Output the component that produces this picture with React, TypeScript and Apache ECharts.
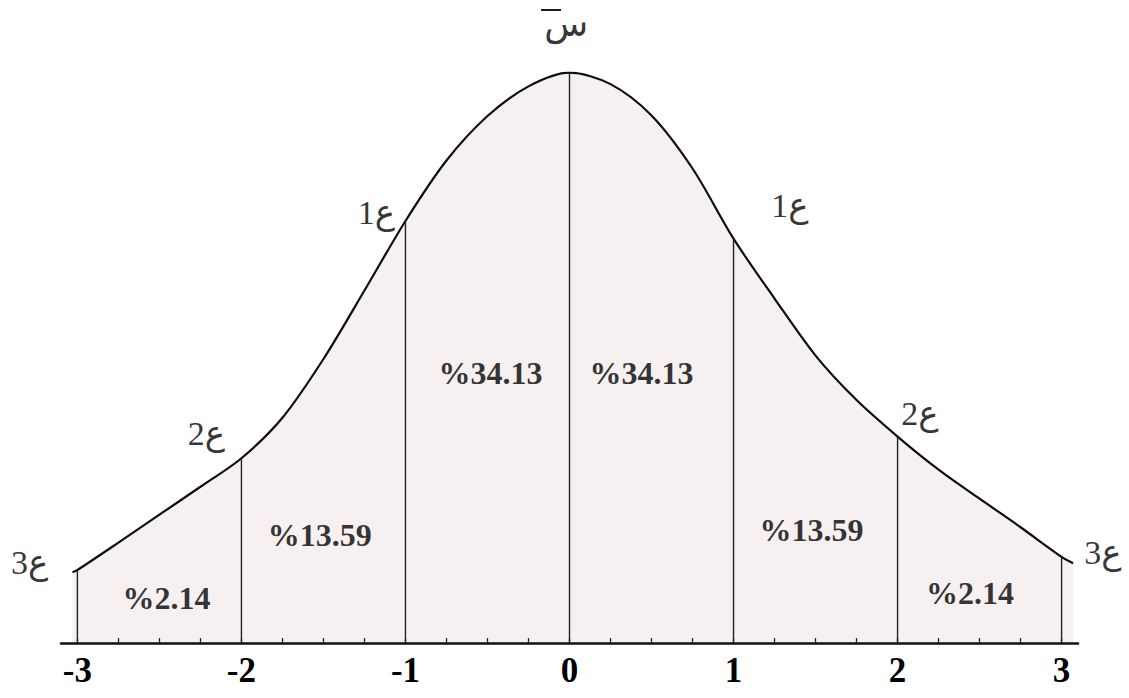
import React, { useEffect, useRef } from "react";
import * as echarts from "echarts";

// Curve (x in σ units, height relative to peak = 100)
const curveX = [-3.03, -3, -2.75, -2.5, -2.25, -2, -1.75, -1.5, -1.25, -1, -0.75, -0.5, -0.25, 0, 0.25, 0.5, 0.75, 1, 1.25, 1.5, 1.75, 2, 2.25, 2.5, 2.75, 3, 3.07];
const curveY = [12.4, 12.8, 17.6, 22.5, 27.4, 32.4, 39.5, 49.8, 61.8, 74.0, 84.6, 92.4, 97.6, 100, 98.0, 92.5, 83.2, 70.9, 60.4, 50.4, 42.6, 36.2, 30.4, 25.3, 20.3, 15.1, 14.0];

// Vertical dividers at each standard deviation
const sigmaX = [-3, -2, -1, 0, 1, 2, 3];
const sigmaH = [12.8, 32.4, 74.0, 100, 70.9, 36.2, 15.1];

// Tick labels
const tickLabels = [-3, -2, -1, 0, 1, 2, 3];

// Area percentages (left to right)
const percentTexts = ["%2.14", "%13.59", "%34.13", "%34.13", "%13.59", "%2.14"];
const percentPos = [[-2.457, 7.9], [-1.523, 18.9], [-0.481, 47.3], [0.439, 47.3], [1.476, 19.8], [2.441, 8.8]];

// σ (ع) labels
const sigmaTexts = ["ع3", "ع2", "ع1", "ع1", "ع2", "ع3"];
const sigmaPos = [[-3.291, 14.2], [-2.213, 36.8], [-1.177, 75.4], [1.343, 76.8], [2.136, 40.3], [3.252, 15.8]];

// mean label
const meanText = "س";
const meanPos = [-0.02, 108.5];

const minorTicks: number[] = [];
for (let i = 0; i < tickLabels.length - 1; i++) {
  for (let k = 0; k < 4; k++) minorTicks.push(tickLabels[i] + k * 0.25);
}
minorTicks.push(tickLabels[tickLabels.length - 1]);

const SERIF = "'Liberation Serif', 'Times New Roman', 'DejaVu Serif', 'DejaVu Sans', serif";

const labelBase = {
  show: true,
  position: "inside",
  formatter: (p: any) => p.name,
  color: "#000",
  fontFamily: SERIF,
  textBorderWidth: 0,
  textBorderColor: "transparent",
  textShadowBlur: 0,
};

export default function App() {
  const ref = useRef<HTMLDivElement>(null);
  useEffect(() => {
    if (!ref.current) return;
    const chart = echarts.init(ref.current, null, { renderer: "svg" });
    chart.setOption({
      animation: false,
      backgroundColor: "#ffffff",
      grid: { left: 61, right: 51, top: 72.7, bottom: 55 },
      xAxis: {
        type: "value",
        z: 10,
        min: -3.1,
        max: 3.1,
        splitLine: { show: false },
        axisLine: { show: true, onZero: false, lineStyle: { color: "#111", width: 2.5 } },
        axisTick: {
          show: true,
          inside: true,
          length: 5,
          customValues: minorTicks,
          lineStyle: { color: "#222", width: 1.3 },
        },
        axisLabel: {
          customValues: tickLabels,
          color: "#000",
          fontFamily: SERIF,
          fontWeight: "bold",
          fontSize: 35,
          margin: 10,
        },
      },
      yAxis: { type: "value", min: 0, max: 100, show: false },
      series: [
        {
          type: "line",
          data: curveX.map((x, i) => [x, curveY[i]]),
          smooth: 0.3,
          symbol: "none",
          lineStyle: { color: "#0d0d0d", width: 2.2 },
          areaStyle: { color: "#f6f1f0", opacity: 1 },
          z: 2,
        },
        {
          type: "custom",
          data: sigmaX.map((x, i) => [x, sigmaH[i]]),
          renderItem: (params: any, api: any) => {
            const x = api.value(0);
            const h = api.value(1);
            const p0 = api.coord([x, 0]);
            const p1 = api.coord([x, h]);
            return {
              type: "line",
              shape: { x1: p0[0], y1: p0[1], x2: p1[0], y2: p1[1] },
              style: { stroke: "#222", lineWidth: 1.4 },
            };
          },
          z: 3,
        },
        {
          type: "scatter",
          clip: false,
          symbolSize: 0,
          itemStyle: { color: "transparent" },
          data: percentTexts.map((t, i) => ({ name: t, value: percentPos[i] })),
          label: { ...labelBase, fontWeight: "bold", fontSize: 32 },
          z: 4,
        },
        {
          type: "scatter",
          clip: false,
          symbolSize: 0,
          itemStyle: { color: "transparent" },
          data: sigmaTexts.map((t, i) => ({ name: t, value: sigmaPos[i] })),
          label: { ...labelBase, fontSize: 34 },
          z: 4,
        },
        {
          type: "scatter",
          clip: false,
          symbolSize: 0,
          itemStyle: { color: "transparent" },
          data: [{ name: meanText, value: meanPos }],
          label: { ...labelBase, fontSize: 36 },
          z: 4,
        },
      ],
      graphic: [
        {
          type: "line",
          shape: { x1: 541, y1: 10, x2: 561, y2: 10 },
          style: { stroke: "#000", lineWidth: 1.8 },
        },
      ],
    });
    return () => chart.dispose();
  }, []);
  return (
    <div
      ref={ref}
      style={{ position: "fixed", left: 0, top: 0, width: 1129, height: 698, background: "#fff" }}
    />
  );
}
